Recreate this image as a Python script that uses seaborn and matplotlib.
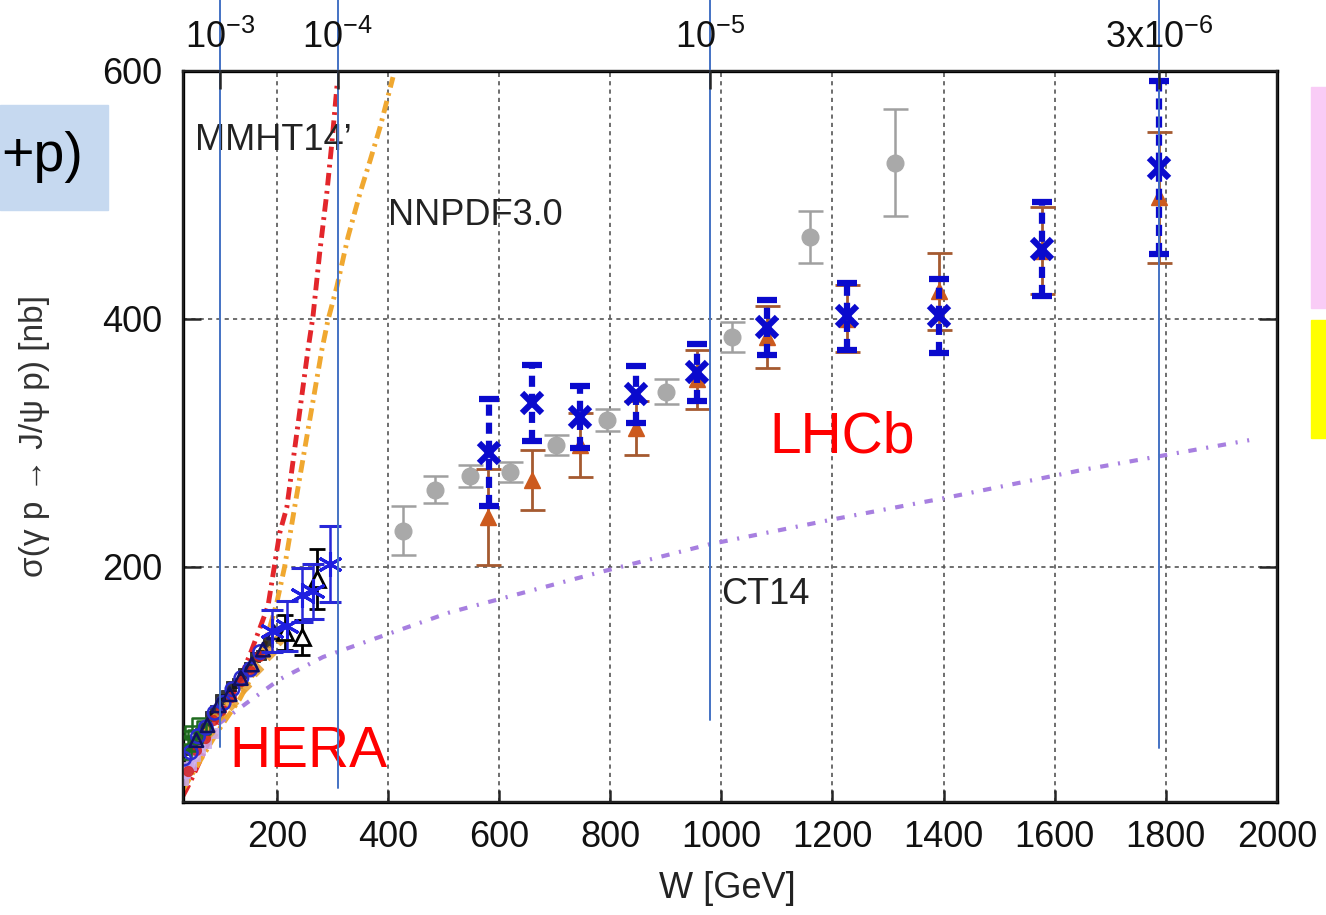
import numpy as np
import pandas as pd
import seaborn as sns
import matplotlib.pyplot as plt
from matplotlib.patches import Rectangle

# ---- model curves ----
mmht_w = [31, 44, 85, 128, 155, 184, 205, 218, 256, 265, 277, 290, 299, 309]
mmht_s = [15, 26, 66, 103, 133, 168, 227, 248, 375, 402, 453, 502, 542, 592]

nnpdf_w = [31, 92, 133, 169, 200, 214, 232, 281, 292, 308, 328, 350, 368, 386, 409]
nnpdf_s = [20, 66, 93, 123, 171, 200, 248, 375, 399, 426, 466, 502, 528, 555, 595]

ct14_w = [31, 74, 146, 205, 283, 371, 511, 786, 979, 1200, 1410, 1650, 1950]
ct14_s = [35, 66, 90, 109, 127, 141, 163, 196, 218, 238, 256, 278, 302]

# ---- grey circles ----
grey_w = [427, 484, 547, 619, 702, 795, 901, 1020, 1159, 1312]
grey_s = [229, 262, 273, 276, 298, 318, 341, 385, 466, 526]
grey_e = [20, 11, 9, 8, 8, 9, 10, 12, 21, 43]

# ---- LHCb (brown triangles and blue crosses) ----
tri_w = [580, 659, 745, 846, 957, 1083, 1227, 1392, 1578, 1788]
tri_s = [240, 270, 298, 312, 351, 385, 400, 422, 455, 498]
tri_e = [39, 24, 26, 22, 24, 25, 27, 31, 35, 53]

lhcb_w = [581, 659, 745, 846, 957, 1083, 1227, 1392, 1578, 1788]
lhcb_s = [292, 332, 321, 339, 357, 393, 402, 402, 456, 522]
lhcb_e = [43, 31, 25, 23, 23, 22, 27, 30, 38, 70]

# ---- HERA points ----
h1_hi_w = [214, 245, 272]
h1_hi_s = [147, 143, 190]
h1_hi_e = [14, 14, 24]

zeus_hi_w = [191, 218, 245, 265, 295]
zeus_hi_s = [148, 152, 177, 180, 202]
zeus_hi_e = [17, 20, 22, 22, 31]

black_w = [36, 44, 52, 61, 70, 79, 88, 98, 108, 118, 128, 139, 150, 161, 172, 184]
black_s = [40, 52, 55, 66, 70, 79, 84, 93, 96, 104, 106, 114, 119, 127, 129, 139]
green_w = [31, 34, 38, 42, 47, 53, 60, 68]
green_s = [58, 50, 62, 57, 66, 63, 72, 70]
red_w = [40, 55, 70, 85, 100, 118, 136, 152, 168]
red_s = [35, 52, 62, 76, 84, 95, 108, 116, 128]
blue_w = [33, 45, 58, 72, 88, 104, 120, 136, 152, 170]
blue_s = [45, 50, 63, 70, 82, 90, 101, 110, 117, 131]
lilac_w = [31, 35, 40, 46, 53, 62, 73, 85]
lilac_s = [28, 33, 38, 40, 47, 52, 58, 66]
orange_w = [75, 95, 118, 140, 162, 185, 205]
orange_s = [66, 80, 90, 104, 117, 130, 142]
navy_w = [55, 75, 95, 115, 135, 155, 175, 195]
navy_s = [60, 72, 88, 97, 110, 121, 133, 147]

# top axis: Bjorken-x values
top_x = [1e-3, 1e-4, 1e-5, 3e-6]
top_labels = ['$\\mathregular{10^{-3}}$', '$\\mathregular{10^{-4}}$',
              '$\\mathregular{10^{-5}}$', '$\\mathregular{3x10^{-6}}$']
m_jpsi = 3.097

sns.set_theme(style='white')
plt.rcParams['font.family'] = ['Liberation Sans', 'DejaVu Sans']
plt.rcParams['lines.scale_dashes'] = False
plt.rcParams['mathtext.fontset'] = 'custom'
plt.rcParams['mathtext.rm'] = 'Liberation Sans'
plt.rcParams['mathtext.sf'] = 'Liberation Sans'

fig = plt.figure(figsize=(13.26, 9.15), dpi=100)
ax = fig.add_axes([0.138, 0.1235, 0.825, 0.799])

# curves
sns.lineplot(x=mmht_w, y=mmht_s, ax=ax, color='#E3262B', lw=3.5,
             linestyle=(0, (9, 4, 2, 4)), zorder=2)
sns.lineplot(x=nnpdf_w, y=nnpdf_s, ax=ax, color='#F0A830', lw=3.5,
             linestyle=(0, (9, 4, 2, 4)), zorder=2)
sns.lineplot(x=ct14_w, y=ct14_s, ax=ax, color='#A77FE0', lw=3,
             linestyle=(0, (6, 7, 1.5, 7)), zorder=2)

# HERA cluster (marker, colour, open?)
cluster = [
    (black_w, black_s, 's', '#111111', False),
    (lilac_w, lilac_s, 's', '#C8A8EC', False),
    (orange_w, orange_s, 'D', '#E8A030', False),
    (red_w, red_s, 'o', '#D42020', False),
    (green_w, green_s, 's', '#1E6B1E', True),
    (blue_w, blue_s, 'o', '#2B2BD0', True),
    (navy_w, navy_s, '^', '#101060', True),
]
for w, s, mk, col, hollow in cluster:
    if hollow:
        sns.scatterplot(x=w, y=s, ax=ax, marker=mk, s=95, facecolor='none',
                        edgecolor=col, linewidth=1.8, zorder=3)
    else:
        sns.scatterplot(x=w, y=s, ax=ax, marker=mk, color=col, s=55,
                        edgecolor=col, alpha=0.85, zorder=3)

ax.errorbar(h1_hi_w, h1_hi_s, yerr=h1_hi_e, fmt='^', ms=11, mfc='white',
            mec='black', mew=2, ecolor='black', elinewidth=2, capsize=6,
            capthick=2.5, zorder=4)
ax.errorbar(zeus_hi_w, zeus_hi_s, yerr=zeus_hi_e, fmt=' ', marker=(6, 2, 0),
            ms=18, mew=2.2, color='#1F1FE0', ecolor='#2828D8', elinewidth=1.8,
            capsize=8, capthick=1.8, zorder=4)

# grey circles
ax.errorbar(grey_w, grey_s, yerr=grey_e, fmt='o', ms=12, color='#A9A9A9',
            ecolor='#A0A0A0', elinewidth=1.8, capsize=9, capthick=1.8, zorder=3)

# LHCb
ax.errorbar(tri_w, tri_s, yerr=tri_e, fmt='^', ms=11, color='#CC5A1E',
            ecolor='#A55A30', elinewidth=2, capsize=9, capthick=2, zorder=4)
eb = ax.errorbar(lhcb_w, lhcb_s, yerr=lhcb_e, fmt='x', ms=15, mew=4.5,
                 color='#0A0ACD', elinewidth=4.5, capsize=7, capthick=5, zorder=5)
eb[2][0].set_linestyle((0, (8, 5)))

# axes
ax.set_xlim(31, 2000)
ax.set_ylim(10, 600)
ax.set_xticks(range(200, 2001, 200))
ax.set_yticks([200, 400, 600])
ax.grid(True, color='#555555', linestyle=(0, (3, 3)), linewidth=1.2)
for sp in ax.spines.values():
    sp.set_color('black')
    sp.set_linewidth(2.4)
ax.tick_params(axis='x', direction='in', length=9, width=1.8, labelsize=26,
               bottom=True, top=False, pad=13, labelcolor='#111111')
ax.tick_params(axis='y', direction='in', length=13, width=1.8, labelsize=26,
               left=True, right=True, labelright=False, pad=15,
               labelcolor='#111111')

ax.set_xlabel('W [GeV]', fontsize=26, color='#222222')
ax.xaxis.set_label_coords(0.498, -0.095)
ax.set_ylabel('σ(γ p → J/ψ p) [nb]', fontsize=24, color='#333333')
ax.yaxis.set_label_coords(-0.122, 0.5)

# top axis in x
top_w = [m_jpsi / np.sqrt(xx) for xx in top_x]
ax2 = ax.twiny()
ax2.set_xlim(ax.get_xlim())
ax2.set_xticks(top_w, top_labels)
ax2.grid(False)
ax2.tick_params(axis='x', direction='in', length=13, width=1.8, labelsize=26,
                top=True, labeltop=True, bottom=False, labelbottom=False,
                pad=11, labelcolor='#111111')

# curve labels
ax.text(52, 536, 'MMHT14’', fontsize=26, color='#222222', va='baseline')
ax.text(400, 476, 'NNPDF3.0', fontsize=26, color='#222222', va='baseline')
ax.text(1000, 170, 'CT14', fontsize=26, color='#222222', va='baseline')

ax.text(115, 38, 'HERA', fontsize=41, color='#FF0000', va='baseline', zorder=11)
ax.text(1087, 292, 'LHCb', fontsize=41, color='#FF0000', va='baseline', zorder=11)

# slide overlay lines at the x markers
line_bottoms = [0.075, 0.019, 0.112, 0.074]
for w, yb in zip(top_w, line_bottoms):
    ax.plot([w, w], [yb, 1.1], transform=ax.get_xaxis_transform(),
            color='#4472C4', lw=1.4, clip_on=False, zorder=12)

# slide pieces around the chart
fig.patches.append(Rectangle((0, 0.7705), 0.0815, 0.1145, transform=fig.transFigure,
                             color='#C6D9F0', zorder=0))
fig.text(0.0625, 0.828, '+p)', fontsize=40, ha='right', va='center', color='black')
fig.patches.append(Rectangle((0.9887, 0.663), 0.0113, 0.242, transform=fig.transFigure,
                             color='#F9CCF6', zorder=0))
fig.patches.append(Rectangle((0.9887, 0.521), 0.0113, 0.129, transform=fig.transFigure,
                             color='#FFFF00', zorder=0))

plt.savefig('out.png', dpi=100)
